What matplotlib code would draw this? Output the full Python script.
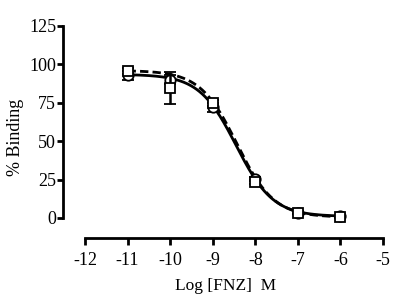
import numpy as np
import matplotlib
matplotlib.use("Agg")
import matplotlib.pyplot as plt

plt.rcParams['font.family'] = ['Liberation Serif', 'DejaVu Serif']

log_conc = [-11, -10, -9, -8, -7, -6]
circle_vals = [93.0, 90.0, 72.0, 25.5, 3.5, 1.0]
circle_err = [3.0, 3.0, 3.0, 1.5, 1.0, 0.5]
square_vals = [95.5, 84.5, 75.0, 23.5, 3.5, 0.8]
square_err = [2.0, 10.5, 2.0, 1.5, 1.0, 0.5]

# sigmoid fit parameters (top, bottom, logIC50)
solid_fit = (93.5, 1.0, -8.45)
dashed_fit = (96.0, 0.5, -8.43)

xticks = [-12, -11, -10, -9, -8, -7, -6, -5]
yticks = [0, 25, 50, 75, 100, 125]


def sigmoid(x, p):
    top, bottom, ic = p
    return bottom + (top - bottom) / (1 + 10 ** (x - ic))


fig = plt.figure(figsize=(3.99, 3.02), dpi=100)
ax = fig.add_axes([0.149, 0.207, 0.8215, 0.7325])

xs = np.linspace(-11, -6, 300)
ax.plot(xs, sigmoid(xs, dashed_fit), color='black', lw=2.0, ls=(0, (3, 1.5)), zorder=2)
ax.plot(xs, sigmoid(xs, solid_fit), color='black', lw=2.0, zorder=2)

ax.errorbar(log_conc, circle_vals, yerr=circle_err, fmt='o', mfc='white', mec='black',
            mew=1.3, ms=7.5, ecolor='black', elinewidth=1.8, capsize=4.5, capthick=1.8, zorder=3)
ax.errorbar(log_conc, square_vals, yerr=square_err, fmt='s', mfc='white', mec='black',
            mew=1.3, ms=7.5, ecolor='black', elinewidth=1.8, capsize=4.5, capthick=1.8, zorder=4)

ax.set_xlim(-12.6, -4.9)
ax.set_ylim(-14, 130)

for s in ['top', 'right']:
    ax.spines[s].set_visible(False)
ax.spines['left'].set_position(('data', -12.52))
ax.spines['left'].set_bounds(0, 125)
ax.spines['bottom'].set_position(('data', -13))
ax.spines['bottom'].set_bounds(-12, -5)
for s in ['left', 'bottom']:
    ax.spines[s].set_linewidth(2.0)

ax.set_xticks(xticks)
ax.set_xticklabels([str(t) for t in xticks])
ax.set_yticks(yticks)
ax.set_yticklabels([str(t) for t in yticks])
ax.tick_params(axis='both', width=2.0, labelsize=13)
ax.tick_params(axis='x', length=5, pad=5)
ax.tick_params(axis='y', length=4.3, pad=0.5)

ax.set_xlabel('Log [FNZ]  M', fontsize=12.5)
ax.set_ylabel('% Binding', fontsize=13)
ax.xaxis.set_label_coords(0.508, -0.174)
ax.yaxis.set_label_coords(-0.108, 0.46)

fig.savefig('out.png', dpi=100)
